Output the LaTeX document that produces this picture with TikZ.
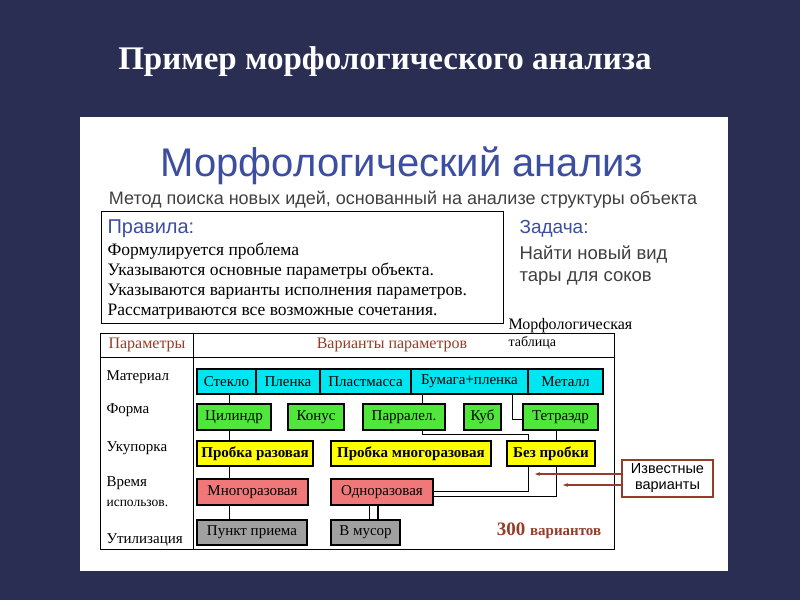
\documentclass[tikz,border=0pt]{standalone}
\usepackage{fontspec}
\setmainfont{Liberation Serif}
\newfontfamily\sans{Liberation Sans}
\usetikzlibrary{arrows.meta}
\definecolor{bg}{RGB}{42,46,82}
\definecolor{hblue}{RGB}{60,78,160}
\definecolor{brn}{RGB}{150,60,40}
\definecolor{cy}{RGB}{0,230,240}
\definecolor{gr}{RGB}{80,230,60}
\definecolor{ye}{RGB}{255,255,0}
\definecolor{rd}{RGB}{240,120,120}
\definecolor{gy}{RGB}{160,160,160}
\begin{document}
\begin{tikzpicture}[x=1pt,y=-1pt,
  cell/.style={draw=black,line width=1.2pt,inner sep=0pt,font=\fontsize{15}{15}\selectfont},
  lbl/.style={anchor=west,font=\fontsize{15}{16}\selectfont,align=left},
  rl/.style={anchor=west,font=\fontsize{17.5}{17.5}\selectfont},
  conn/.style={draw=black,line width=0.8pt}]
\useasboundingbox (0,0) rectangle (800,600);
\fill[bg] (0,0) rectangle (800,600);
\node[text=white,font=\bfseries\fontsize{33}{33}\selectfont] (title) at (385,62) {Пример морфологического анализа};
\fill[white] (80,117) rectangle (728,571);
\node[text=hblue,font=\sans\fontsize{40}{40}\selectfont] (head) at (402,166) {Морфологический анализ};
\node[text=black!75,font=\sans\fontsize{18}{18}\selectfont] (sub) at (403,200) {Метод поиска новых идей, основанный на анализе структуры объекта};
\draw[line width=1pt] (101,211) rectangle (503,323);
\node[anchor=west,text=hblue,font=\sans\fontsize{20}{20}\selectfont] (pr) at (104,229) {Правила:};
\node[rl] (r1) at (104,251) {Формулируется проблема};
\node[rl] (r2) at (104,271) {Указываются основные параметры объекта.};
\node[rl] (r3) at (104,292) {Указываются варианты исполнения параметров.};
\node[rl] (r4) at (104,312) {Рассматриваются все возможные сочетания.};
\node[anchor=west,text=hblue,font=\sans\fontsize{19}{19}\selectfont] (zd) at (516,229) {Задача:};
\node[anchor=west,text=black!75,font=\sans\fontsize{18.5}{18.5}\selectfont] (z1) at (516,254) {Найти новый вид};
\node[anchor=west,text=black!75,font=\sans\fontsize{18.5}{18.5}\selectfont] (z2) at (516,278) {тары для соков};
\node[anchor=west,font=\fontsize{16}{16}\selectfont] (mt) at (505,326) {Морфологическая};
\node[anchor=west,font=\fontsize{14}{14}\selectfont] (mt2) at (505,343) {таблица};
% table
\draw[line width=1pt] (100,333) rectangle (614,549);
\draw[line width=1pt] (193,333) -- (193,549) (100,357) -- (614,357);
\node[text=brn,font=\fontsize{16}{16}\selectfont] (hp) at (147,345) {Параметры};
\node[text=brn,font=\fontsize{16}{16}\selectfont] (hv) at (392,345) {Варианты параметров};
\node[lbl] (l1) at (103,377) {Материал};
\node[lbl] (l2) at (103,410) {Форма};
\node[lbl] (l3) at (103,448) {Укупорка};
\node[lbl] (l4) at (103,483) {Время};
\node[lbl,font=\fontsize{13.5}{14}\selectfont] (l4b) at (103,503) {использов.};
\node[lbl] (l5) at (103,540) {Утилизация};
% cyan row
\foreach \a/\b/\t/\n in {197/256/Стекло/c1,256/320/Пленка/c2,320/411/Пластмасса/c3,411/528/Бумага+пленка/c4,528/603/Металл/c5}
  \node[cell,fill=cy,minimum width=\b-\a,minimum height=25] (\n) at ({(\a+\b)/2},381.5) {\t};
\foreach \a/\b/\t/\n in {197/271/Цилиндр/g1,288/344/Конус/g2,363/445/Парралел./g3,464/501/Куб/g4,523/598/Тетраэдр/g5}
  \node[cell,fill=gr,minimum width=\b-\a,minimum height=26] (\n) at ({(\a+\b)/2},417) {\t};
\foreach \a/\b/\t/\n in {197/313/Пробка разовая/y1,331/491/Пробка многоразовая/y2,507/595/Без пробки/y3}
  \node[cell,fill=ye,font=\bfseries\fontsize{15}{15}\selectfont,minimum width=\b-\a,minimum height=25] (\n) at ({(\a+\b)/2},453.5) {\t};
\foreach \a/\b/\t/\n in {197/308/Многоразовая/m1,331/433/Одноразовая/m2}
  \node[cell,fill=rd,minimum width=\b-\a,minimum height=26] (\n) at ({(\a+\b)/2},492) {\t};
\foreach \a/\b/\t/\n in {197/307/Пункт приема/u1,331/400/В мусор/u2}
  \node[cell,fill=gy,minimum width=\b-\a,minimum height=25] (\n) at ({(\a+\b)/2},532.5) {\t};
\node[text=brn,font=\bfseries\fontsize{19}{19}\selectfont] (n300) at (549,531) {300 \fontsize{15}{15}\selectfont вариантов};
% connectors
\draw[conn] (229,394) -- (229,404) (229,430) -- (229,441) (229,466) -- (229,479) (229,505) -- (229,520);
\draw[conn] (422,394) -- (422,404);
\draw[conn] (422,430) -- (422,434) -- (528,434) -- (528,441);
\draw[conn] (528,466) -- (528,491) -- (433,491);
\draw[conn] (512,394) -- (512,419) -- (523,419);
\draw[conn] (556,430) -- (556,441);
\draw[conn] (556,466) -- (556,496) -- (433,496);
\draw[conn] (369,505) -- (369,520);
\draw[line width=1.6pt] (378,505) -- (378,520);
% known variants
\node[draw=brn,line width=1.5pt,minimum width=91,minimum height=37,align=center,font=\sans\fontsize{14.5}{16}\selectfont] (kv) at (667.5,478.5) {Известные\\варианты};
\draw[brn,line width=1.2pt,-{Stealth[length=5pt]}] (kv.west|-0,474) -- (535,474);
\draw[brn,line width=1.2pt,-{Stealth[length=5pt]}] (kv.west|-0,485) -- (563,485);
\end{tikzpicture}
\end{document}
